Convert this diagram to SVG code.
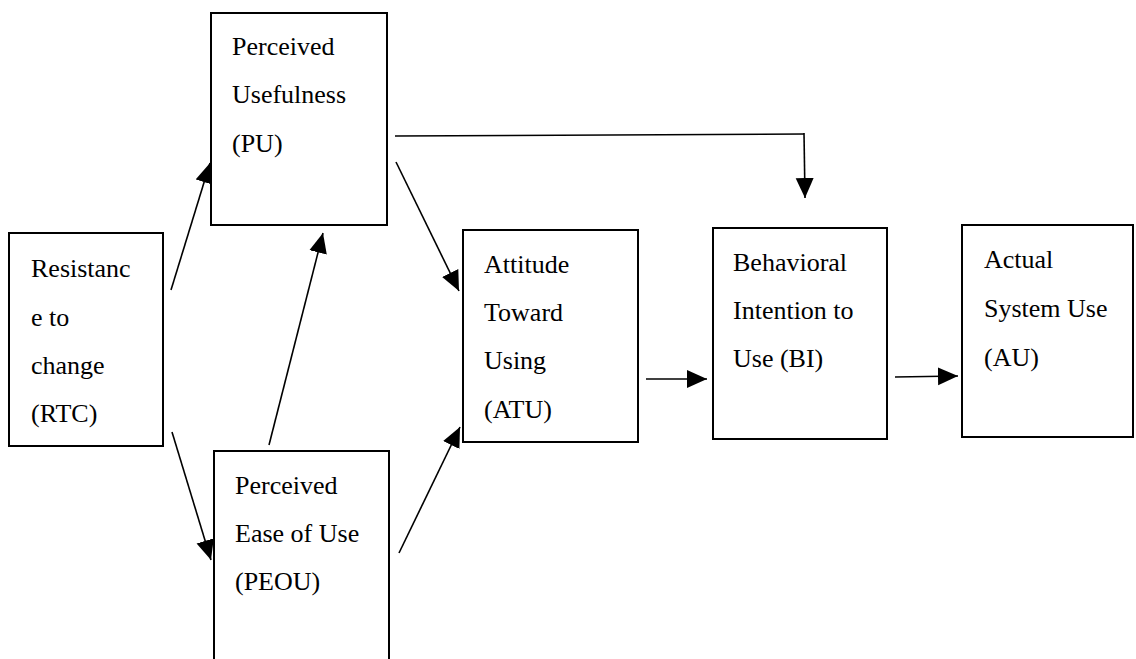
<svg xmlns="http://www.w3.org/2000/svg" width="1136" height="659" viewBox="0 0 1136 659">
<style>
.box{fill:#fff;stroke:#000;stroke-width:2}
.c{stroke:#000;stroke-width:1.6;fill:none}
text{font-family:'Liberation Serif','Times New Roman',serif;font-size:26px;fill:#000}
</style>
<defs>
<marker id="ah" markerUnits="userSpaceOnUse" markerWidth="22" markerHeight="20" refX="20" refY="9" orient="auto">
<path d="M0,0 L20,9 L0,18 Z" fill="#000"/>
</marker>
</defs>
<rect width="1136" height="659" fill="#fff"/>
<g id="connectors">
<line class="c" x1="171" y1="290" x2="210" y2="163" marker-end="url(#ah)"/>
<line class="c" x1="269" y1="445" x2="323" y2="233" marker-end="url(#ah)"/>
<line class="c" x1="172" y1="432" x2="211" y2="560" marker-end="url(#ah)"/>
<line class="c" x1="396" y1="162" x2="459" y2="291" marker-end="url(#ah)"/>
<line class="c" x1="399" y1="553" x2="460" y2="427" marker-end="url(#ah)"/>
<polyline class="c" points="395,136 804,134"/>
<line class="c" x1="804" y1="133" x2="805" y2="198" marker-end="url(#ah)"/>
<line class="c" x1="646" y1="379" x2="707" y2="379" marker-end="url(#ah)"/>
<line class="c" x1="895" y1="377" x2="958" y2="376" marker-end="url(#ah)"/>
</g>
<g id="PU">
<rect class="box" x="211" y="13" width="176" height="212"/>
<text x="232" y="55">Perceived</text>
<text x="232" y="103">Usefulness</text>
<text x="232" y="152">(PU)</text>
</g>
<g id="RTC">
<rect class="box" x="9" y="233" width="154" height="213"/>
<text x="31" y="277">Resistanc</text>
<text x="31" y="326">e to</text>
<text x="31" y="374">change</text>
<text x="31" y="422">(RTC)</text>
</g>
<g id="PEOU">
<rect class="box" x="214" y="451" width="175" height="230"/>
<text x="235" y="494">Perceived</text>
<text x="235" y="542">Ease of Use</text>
<text x="235" y="590">(PEOU)</text>
</g>
<g id="ATU">
<rect class="box" x="463" y="230" width="175" height="212"/>
<text x="484" y="273">Attitude</text>
<text x="484" y="321">Toward</text>
<text x="484" y="369">Using</text>
<text x="484" y="418">(ATU)</text>
</g>
<g id="BI">
<rect class="box" x="713" y="228" width="174" height="211"/>
<text x="733" y="271">Behavioral</text>
<text x="733" y="319">Intention to</text>
<text x="733" y="367">Use (BI)</text>
</g>
<g id="AU">
<rect class="box" x="962" y="225" width="171" height="212"/>
<text x="984" y="268">Actual</text>
<text x="984" y="317">System Use</text>
<text x="984" y="366">(AU)</text>
</g>
</svg>
